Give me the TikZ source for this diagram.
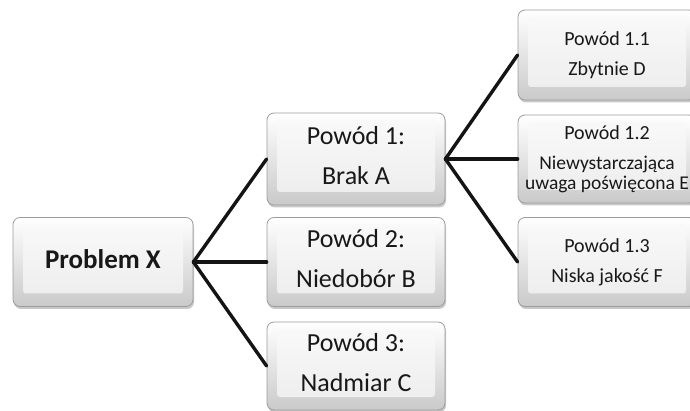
\documentclass[tikz,border=0pt]{standalone}
\usepackage{fontspec}
\setmainfont{Carlito}
\usetikzlibrary{shadows,calc}
\definecolor{txt}{HTML}{181818}
\definecolor{edgegray}{HTML}{9C9C9C}
\tikzset{
  box/.style={draw=edgegray, line width=0.8pt, rounded corners=7pt,
    top color=white, bottom color=gray!42,
    minimum width=178pt, minimum height=89pt, inner sep=0pt,
    align=center, text=txt,
    drop shadow={shadow xshift=1pt, shadow yshift=-2.5pt, opacity=0.3, fill=black!70},
    path picture={
      \shade[top color=gray!4, bottom color=gray!15, rounded corners=3pt]
        ($(path picture bounding box.south west)+(10pt,13pt)$) rectangle
        ($(path picture bounding box.north east)+(-10pt,-7pt)$);
    }},
  bigtext/.style={font=\fontsize{26}{40}\selectfont},
  smalltext/.style={font=\fontsize{20}{30}\selectfont},
  conn/.style={draw=black!92, line width=3.4pt, line cap=round}
}
\begin{document}
\begin{tikzpicture}[x=1pt,y=-1pt]
  \useasboundingbox[fill=white] (0,0) rectangle (690,411);
  \node[box, minimum width=180pt, font=\fontsize{27}{30}\selectfont\bfseries,
        text height=20pt, text depth=6pt] (px) at (103,262) {Problem X};
  \node[box, bigtext, minimum height=92pt] (p1) at (356,159) {Powód 1:\\Brak A\rule[-7pt]{0pt}{0pt}};
  \node[box, bigtext] (p2) at (356,262) {Powód 2:\\Niedobór B\rule[-7pt]{0pt}{0pt}};
  \node[box, bigtext, minimum height=88pt] (p3) at (356,366) {Powód 3:\\Nadmiar C\rule[-7pt]{0pt}{0pt}};
  \node[box, smalltext, minimum height=90pt] (p11) at (607,55) {Powód 1.1\\Zbytnie D};
  \node[box, font=\fontsize{19.5}{20}\selectfont, minimum height=88pt] (p12) at (607,159)
     {{\fontsize{20}{20}\selectfont Powód 1.2}\\[10pt]Niewystarczająca\\uwaga poświęcona E};
  \node[box, smalltext] (p13) at (607,262) {Powód 1.3\\Niska jakość F};
  \draw[conn] (px.east) -- (p1.west);
  \draw[conn] (px.east) -- (p2.west);
  \draw[conn] (px.east) -- (p3.west);
  \draw[conn] (p1.east) -- (p11.west);
  \draw[conn] (p1.east) -- (p12.west);
  \draw[conn] (p1.east) -- (p13.west);
\end{tikzpicture}
\end{document}
